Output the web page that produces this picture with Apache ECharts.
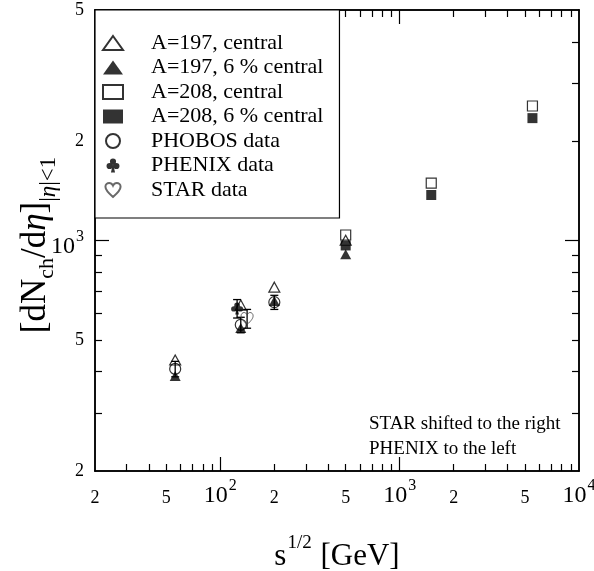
<!DOCTYPE html>
<html>
<head>
<meta charset="utf-8">
<script src="https://cdn.jsdelivr.net/npm/echarts@6/dist/echarts.min.js"></script>
<style>
html, body { margin: 0; padding: 0; background: #fff; }
#main { width: 594px; height: 571px; }
</style>
</head>
<body>
<div id="main"></div>
<script>
// model, A=197 (Au)
var auEnergy = [56, 130, 200, 500]
var auCentral = [434, 637, 722, 1002]
var auSixPct = [388, 543, 655, 908]
// model, A=208 (Pb)
var pbEnergy = [500, 1500, 5500]
var pbCentral = [1039, 1493, 2558]
var pbSixPct = [966, 1374, 2350]
// data
var phobosEnergy = [56, 130, 200]
var phobosValue = [408, 555, 650]
var phobosError = [22, 30, 32]
var phenixEnergy = [124]
var phenixValue = [622]
var phenixError = [40]
var starEnergy = [141]
var starValue = [580]
var starError = [38]
// axes
var xLabelValues = [20, 50, 100, 200, 500, 1000, 2000, 5000, 10000]
var xMajorTicks = [100, 1000]
var xMinorTicks = [30, 40, 50, 60, 70, 80, 90, 200, 300, 400, 500, 600, 700, 800, 900,
  2000, 3000, 4000, 5000, 6000, 7000, 8000, 9000]
var yLabelValues = [200, 500, 1000, 2000, 5000]
var yMajorTicks = [1000]
var yMinorTicks = [300, 400, 500, 600, 700, 800, 900, 2000, 3000, 4000]

var F = 'Liberation Serif'

function pairs(xs, ys) {
  return xs.map(function (x, i) { return [x, ys[i]] })
}
function triples(xs, ys, es) {
  return xs.map(function (x, i) { return [x, ys[i], es[i]] })
}

// tick label: 10^n as power, otherwise leading digit
function tickLabel(v) {
  v = Math.round(v)
  var e = Math.round(Math.log10(v))
  if (Math.pow(10, e) === v) return '{b|10}{sup|' + e + '}'
  return '{n|' + String(v).charAt(0) + '}'
}

var xRich = {
  b: { fontFamily: F, fontSize: 24, lineHeight: 24, padding: [6, 0, 0, 0], verticalAlign: 'top', color: '#000' },
  sup: { fontFamily: F, fontSize: 16, lineHeight: 16, padding: [0, 0, 0, 1], verticalAlign: 'top', color: '#000' },
  n: { fontFamily: F, fontSize: 18, lineHeight: 18, padding: [11, 0, 0, 0], verticalAlign: 'top', color: '#000' }
}
var yRich = {
  b: { fontFamily: F, fontSize: 24, lineHeight: 24, padding: [6, 0, 0, 0], verticalAlign: 'top', color: '#000' },
  sup: { fontFamily: F, fontSize: 16, lineHeight: 16, padding: [0, 0, 0, 1], verticalAlign: 'top', color: '#000' },
  n: { fontFamily: F, fontSize: 18, lineHeight: 18, verticalAlign: 'top', color: '#000' }
}

function axisDef(isX, pos, ticks, len, labels) {
  var ax = {
    type: 'log',
    logBase: 10,
    min: isX ? 20 : 200,
    max: isX ? 10000 : 5000,
    position: pos,
    offset: 0,
    axisLine: { show: true, onZero: false, lineStyle: { color: '#000', width: 1.5 } },
    axisTick: { show: true, inside: true, length: len, customValues: ticks, lineStyle: { color: '#000', width: 1.2 } },
    axisLabel: { show: false },
    splitLine: { show: false },
    minorTick: { show: false },
    minorSplitLine: { show: false }
  }
  if (labels) {
    ax.axisLabel = {
      show: true,
      customValues: labels,
      margin: isX ? 7 : 11,
      formatter: tickLabel,
      rich: isX ? xRich : yRich
    }
  }
  return ax
}

// error bars drawn through the axes' own coordinates
function errorBars(params, api) {
  var x = api.value(0)
  var y = api.value(1)
  var e = api.value(2)
  var hi = api.coord([x, y + e])
  var lo = api.coord([x, y - e])
  var st = { stroke: '#000', lineWidth: 1.3 }
  return {
    type: 'group',
    children: [
      { type: 'line', shape: { x1: hi[0], y1: hi[1], x2: lo[0], y2: lo[1] }, style: st },
      { type: 'line', shape: { x1: hi[0] - 4, y1: hi[1], x2: hi[0] + 4, y2: hi[1] }, style: st },
      { type: 'line', shape: { x1: lo[0] - 4, y1: lo[1], x2: lo[0] + 4, y2: lo[1] }, style: st }
    ]
  }
}

var clubPath = 'path://M7.5,7A4.5,4.5 0 0 1 16.5,7A4.5,4.5 0 0 1 7.5,7Z' +
  'M2.5,13.5A4.5,4.5 0 0 1 11.5,13.5A4.5,4.5 0 0 1 2.5,13.5Z' +
  'M12.5,13.5A4.5,4.5 0 0 1 21.5,13.5A4.5,4.5 0 0 1 12.5,13.5Z' +
  'M12,10L15,23L9,23Z'
var heartPath = 'path://M12,21C5,15 2,11.5 2,7.5C2,4.5 4.5,2.5 7,2.5C9,2.5 11,4 12,6' +
  'C13,4 15,2.5 17,2.5C19.5,2.5 22,4.5 22,7.5C22,11.5 19,15 12,21Z'

var openStyle = { color: 'rgba(0,0,0,0)', borderColor: '#000', borderWidth: 1.2 }
var solidStyle = { color: '#000', borderColor: '#000', borderWidth: 0 }

var names = ['A=197, central', 'A=197, 6 % central', 'A=208, central', 'A=208, 6 % central',
  'PHOBOS data', 'PHENIX data', 'STAR data']

var option = {
  animation: false,
  backgroundColor: '#fff',
  textStyle: { fontFamily: F, color: '#000' },
  grid: { left: 95, top: 10, right: 15, bottom: 100, outerBoundsMode: 'none', containLabel: false },
  xAxis: [
    axisDef(true, 'bottom', xMinorTicks, 7, xLabelValues),
    axisDef(true, 'bottom', xMajorTicks, 14, null),
    axisDef(true, 'top', xMinorTicks, 7, null),
    axisDef(true, 'top', xMajorTicks, 14, null)
  ],
  yAxis: [
    axisDef(false, 'left', yMinorTicks, 7, yLabelValues),
    axisDef(false, 'left', yMajorTicks, 14, null),
    axisDef(false, 'right', yMinorTicks, 7, null),
    axisDef(false, 'right', yMajorTicks, 14, null)
  ],
  legend: {
    data: names,
    orient: 'vertical',
    left: 95,
    top: 10,
    padding: [22, 16, 17, 7],
    itemWidth: 20,
    itemHeight: 14,
    itemGap: 2.5,
    backgroundColor: '#fff',
    borderColor: '#000',
    borderWidth: 1.2,
    borderRadius: 0,
    selectedMode: false,
    textStyle: {
      color: '#000',
      fontFamily: F,
      fontWeight: 'normal',
      fontSize: 22,
      padding: [0, 0, 0, 23]
    }
  },
  graphic: [
    {
      type: 'text',
      x: 337,
      y: 549,
      style: {
        text: '{b|s}{sup|1/2}{b| [GeV]}',
        align: 'center',
        verticalAlign: 'middle',
        rich: {
          b: { fontFamily: F, fontSize: 31, lineHeight: 31, padding: [8, 0, 0, 0], verticalAlign: 'top', fill: '#000' },
          sup: { fontFamily: F, fontSize: 19, lineHeight: 19, padding: [0, 1, 0, 1], verticalAlign: 'top', fill: '#000' }
        }
      }
    },
    {
      type: 'text',
      x: 28,
      y: 245,
      rotation: Math.PI / 2,
      style: {
        text: '{b|[dN}{sub|ch}{b|/d}{bi|η}{b|]}{sub2||}{sub2i|η}{sub2||<1}',
        align: 'center',
        verticalAlign: 'middle',
        rich: {
          b: { fontFamily: F, fontSize: 35, lineHeight: 35, padding: [8, 0, 0, 0], verticalAlign: 'top', fill: '#000' },
          bi: { fontFamily: F, fontSize: 35, fontStyle: 'italic', lineHeight: 35, padding: [8, 0, 0, 0], verticalAlign: 'top', fill: '#000' },
          sub: { fontFamily: F, fontSize: 22, lineHeight: 22, padding: [26, 0, 0, 0], verticalAlign: 'top', fill: '#000' },
          sub2: { fontFamily: F, fontSize: 23, lineHeight: 23, padding: [27, 0, 0, 0], verticalAlign: 'top', fill: '#000' },
          sub2i: { fontFamily: F, fontSize: 23, fontStyle: 'italic', lineHeight: 23, padding: [27, 0, 0, 0], verticalAlign: 'top', fill: '#000' }
        }
      }
    },
    {
      type: 'text',
      left: 369,
      top: 412,
      style: {
        text: 'STAR shifted to the right\nPHENIX to the left',
        fontFamily: F,
        fontSize: 19,
        lineHeight: 25,
        fill: '#000'
      }
    }
  ],
  series: [
    {
      name: 'errors',
      type: 'custom',
      renderItem: errorBars,
      encode: { x: 0, y: 1 },
      data: triples(phobosEnergy, phobosValue, phobosError)
        .concat(triples(phenixEnergy, phenixValue, phenixError))
        .concat(triples(starEnergy, starValue, starError)),
      z: 1
    },
    { name: names[0], type: 'scatter', symbol: 'triangle', symbolSize: [11, 10], itemStyle: openStyle, data: pairs(auEnergy, auCentral), z: 2 },
    { name: names[1], type: 'scatter', symbol: 'triangle', symbolSize: [11, 10], itemStyle: solidStyle, data: pairs(auEnergy, auSixPct), z: 2 },
    { name: names[2], type: 'scatter', symbol: 'rect', symbolSize: 10, itemStyle: openStyle, data: pairs(pbEnergy, pbCentral), z: 2 },
    { name: names[3], type: 'scatter', symbol: 'rect', symbolSize: 10, itemStyle: solidStyle, data: pairs(pbEnergy, pbSixPct), z: 2 },
    { name: names[4], type: 'scatter', symbol: 'circle', symbolSize: 11, itemStyle: openStyle, data: pairs(phobosEnergy, phobosValue), z: 3 },
    { name: names[5], type: 'scatter', symbol: clubPath, symbolSize: 12, itemStyle: solidStyle, data: pairs(phenixEnergy, phenixValue), z: 3 },
    { name: names[6], type: 'scatter', symbol: heartPath, symbolSize: 12, itemStyle: { color: 'rgba(0,0,0,0)', borderColor: '#444', borderWidth: 1 }, data: pairs(starEnergy, starValue), z: 3 }
  ]
}

var chart = echarts.init(document.getElementById('main'))
chart.setOption(option)
</script>
</body>
</html>
